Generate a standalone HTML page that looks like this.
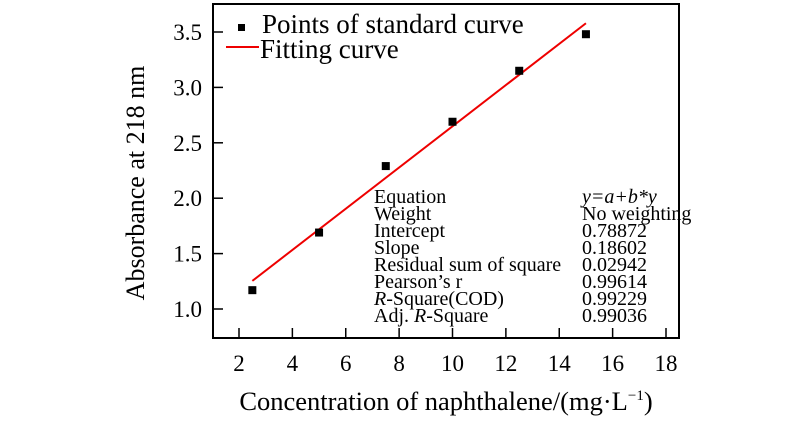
<!DOCTYPE html>
<html><head><meta charset="utf-8"><style>
body{margin:0;background:#fff;width:800px;height:426px;overflow:hidden}
svg{font-family:"Liberation Serif",serif}
</style></head><body>
<svg width="800" height="426">
<g id="g"></g>
</svg>
<script>
const xs=[2.5,5,7.5,10,12.5,15];
const ys=[1.17,1.69,2.29,2.69,3.15,3.48];
const xTicks=[2,4,6,8,10,12,14,16,18];
const yTicks=[1.0,1.5,2.0,2.5,3.0,3.5];
const intercept=0.78872, slope=0.18602;
const statNames=["Equation","Weight","Intercept","Slope","Residual sum of square","Pearson\u2019s r","<tspan font-style='italic'>R</tspan>-Square(COD)","Adj. <tspan font-style='italic'>R</tspan>-Square"];
const statVals=["<tspan font-style='italic'>y=a+b*y</tspan>","No weighting","0.78872","0.18602","0.02942","0.99614","0.99229","0.99036"];
const L=213,R=679,T=4,B=338;
const X=v=>239+(v-2)*(666-239)/16;
const Y=v=>32+(3.5-v)*110.8;
const g=document.getElementById('g');
const NS='http://www.w3.org/2000/svg';
function el(t,a,p){const e=document.createElementNS(NS,t);for(const k in a)e.setAttribute(k,a[k]);(p||g).appendChild(e);return e;}
let e=el('rect',{x:L,y:T,width:R-L,height:B-T,fill:'none',stroke:'#000','stroke-width':2});


xTicks.forEach(v=>{
 let t=el('line',{x1:X(v),x2:X(v),y1:B,y2:B-10,stroke:'#000','stroke-width':1.5});
 
 
 let l=el('text',{x:X(v),y:B+33,'font-size':23,'text-anchor':'middle'});l.textContent=v;
 
 
});
yTicks.forEach(v=>{
 let t=el('line',{x1:L,x2:L+10,y1:Y(v),y2:Y(v),stroke:'#000','stroke-width':1.5});
 
 
 let l=el('text',{x:L-11,y:Y(v)+8,'font-size':23,'text-anchor':'end'});l.textContent=v.toFixed(1);
 
 
});
let fl=el('line',{x1:X(xs[0]),y1:Y(intercept+slope*xs[0]),x2:X(xs[xs.length-1]),y2:Y(intercept+slope*xs[xs.length-1]),stroke:'#e00','stroke-width':2});


xs.forEach((x,i)=>{
 let p=el('rect',{x:X(x)-4,y:Y(ys[i])-4,width:8,height:8,fill:'#000'});
 
 
});
statNames.forEach((s,i)=>{
 let t=el('text',{x:374,y:203+i*17,'font-size':20});t.innerHTML=s;
 
 
 let v=el('text',{x:582,y:203+i*17,'font-size':20});v.innerHTML=statVals[i];
 
 
});
let lm=el('rect',{x:238,y:24,width:7,height:7,fill:'#000'});


let lt=el('text',{x:262,y:33,'font-size':27});lt.textContent='Points of standard curve';


let ll=el('line',{x1:226,x2:259,y1:47,y2:47,stroke:'#e00','stroke-width':2});


let lt2=el('text',{x:260,y:58,'font-size':27});lt2.textContent='Fitting curve';


let xt=el('text',{x:446,y:410,'font-size':26.5,'text-anchor':'middle'});
xt.innerHTML='Concentration of naphthalene/(mg\u00b7L<tspan dy="-10" font-size="15">\u22121</tspan><tspan dy="10">)</tspan>';


let yt=el('text',{x:0,y:0,'font-size':26,'text-anchor':'middle',transform:'translate(144,183) rotate(-90)'});
yt.textContent='Absorbance at 218 nm';


</script>
</body></html>
